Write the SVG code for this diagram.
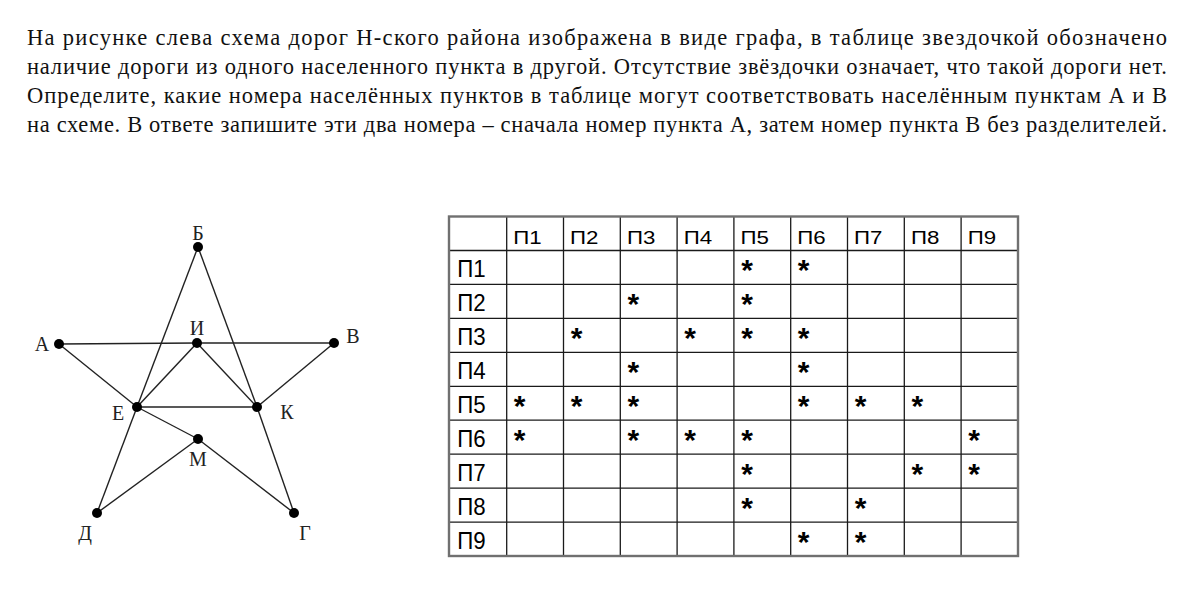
<svg xmlns="http://www.w3.org/2000/svg" width="1190" height="592" viewBox="0 0 1190 592">
<style>
.para{font-family:"Liberation Serif","Times New Roman",serif;font-size:22.5px;fill:#111}
.lbl{font-family:"Liberation Serif","Times New Roman",serif;font-size:20px;fill:#222;text-anchor:middle}
.edge{stroke:#222;stroke-width:1.4;fill:none}
.dot{fill:#000}
.hd{font-family:"Liberation Sans",Arial,sans-serif;font-size:18.5px;fill:#000}
.rl{font-family:"Liberation Sans",Arial,sans-serif;font-size:23px;fill:#000}
.st{font-family:"Liberation Sans",Arial,sans-serif;font-size:30px;font-weight:bold;fill:#000;text-anchor:middle}
.gi{stroke:#1a1a1a;stroke-width:1.3}
.go{stroke:#707070;stroke-width:2.4;fill:none}
</style>
<rect width="1190" height="592" fill="#fff"/>
<g id="text">
<text class="para" x="27" y="45" textLength="1140" lengthAdjust="spacing">На рисунке слева схема дорог Н-ского района изображена в виде графа, в таблице звездочкой обозначено</text>
<text class="para" x="27" y="74" textLength="1140" lengthAdjust="spacing">наличие дороги из одного населенного пункта в другой. Отсутствие звёздочки означает, что такой дороги нет.</text>
<text class="para" x="27" y="103" textLength="1140" lengthAdjust="spacing">Определите, какие номера населённых пунктов в таблице могут соответствовать населённым пунктам А и В</text>
<text class="para" x="27" y="132" textLength="1140" lengthAdjust="spacing">на схеме. В ответе запишите эти два номера – сначала номер пункта А, затем номер пункта В без разделителей.</text>
</g>
<g id="connectors">
<line class="edge" x1="198" y1="247" x2="137" y2="407"/>
<line class="edge" x1="137" y1="407" x2="97" y2="513"/>
<line class="edge" x1="198" y1="247" x2="257" y2="407"/>
<line class="edge" x1="257" y1="407" x2="294" y2="513"/>
<line class="edge" x1="59" y1="344" x2="197" y2="343"/>
<line class="edge" x1="197" y1="343" x2="334" y2="343"/>
<line class="edge" x1="59" y1="344" x2="137" y2="407"/>
<line class="edge" x1="197" y1="343" x2="137" y2="407"/>
<line class="edge" x1="197" y1="343" x2="257" y2="407"/>
<line class="edge" x1="334" y1="343" x2="257" y2="407"/>
<line class="edge" x1="137" y1="407" x2="257" y2="407"/>
<line class="edge" x1="137" y1="407" x2="198" y2="439"/>
<line class="edge" x1="198" y1="439" x2="97" y2="513"/>
<line class="edge" x1="198" y1="439" x2="294" y2="513"/>
</g>
<g id="node-B"><circle class="dot" cx="198" cy="247" r="5"/><text class="lbl" x="198" y="240">Б</text></g>
<g id="node-I"><circle class="dot" cx="197" cy="343" r="5"/><text class="lbl" x="197" y="335">И</text></g>
<g id="node-A"><circle class="dot" cx="59" cy="344" r="5"/><text class="lbl" x="42" y="351">А</text></g>
<g id="node-V"><circle class="dot" cx="334" cy="343" r="5"/><text class="lbl" x="353" y="343">В</text></g>
<g id="node-E"><circle class="dot" cx="137" cy="407" r="5"/><text class="lbl" x="118" y="420">Е</text></g>
<g id="node-K"><circle class="dot" cx="257" cy="407" r="5"/><text class="lbl" x="287" y="419">К</text></g>
<g id="node-M"><circle class="dot" cx="198" cy="439" r="5"/><text class="lbl" x="198" y="466">М</text></g>
<g id="node-D"><circle class="dot" cx="97" cy="513" r="5"/><text class="lbl" x="85" y="540">Д</text></g>
<g id="node-G"><circle class="dot" cx="294" cy="513" r="5"/><text class="lbl" x="305" y="540">Г</text></g>
<g id="table">
<g class="gi">
<line x1="506.7" y1="216.5" x2="506.7" y2="556"/>
<line x1="563.5" y1="216.5" x2="563.5" y2="556"/>
<line x1="620.3" y1="216.5" x2="620.3" y2="556"/>
<line x1="677.1" y1="216.5" x2="677.1" y2="556"/>
<line x1="733.9" y1="216.5" x2="733.9" y2="556"/>
<line x1="790.7" y1="216.5" x2="790.7" y2="556"/>
<line x1="847.5" y1="216.5" x2="847.5" y2="556"/>
<line x1="904.3" y1="216.5" x2="904.3" y2="556"/>
<line x1="961.1" y1="216.5" x2="961.1" y2="556"/>
<line x1="449" y1="250.5" x2="1018" y2="250.5"/>
<line x1="449" y1="284.4" x2="1018" y2="284.4"/>
<line x1="449" y1="318.4" x2="1018" y2="318.4"/>
<line x1="449" y1="352.3" x2="1018" y2="352.3"/>
<line x1="449" y1="386.3" x2="1018" y2="386.3"/>
<line x1="449" y1="420.2" x2="1018" y2="420.2"/>
<line x1="449" y1="454.2" x2="1018" y2="454.2"/>
<line x1="449" y1="488.1" x2="1018" y2="488.1"/>
<line x1="449" y1="522.1" x2="1018" y2="522.1"/>
</g>
<rect class="go" x="449" y="216.5" width="569" height="339.5"/>
<g>
<text class="hd" x="513.3" y="243.5" textLength="28.4" lengthAdjust="spacingAndGlyphs">П1</text>
<text class="hd" x="570.1" y="243.5" textLength="28.4" lengthAdjust="spacingAndGlyphs">П2</text>
<text class="hd" x="626.9" y="243.5" textLength="28.4" lengthAdjust="spacingAndGlyphs">П3</text>
<text class="hd" x="683.7" y="243.5" textLength="28.4" lengthAdjust="spacingAndGlyphs">П4</text>
<text class="hd" x="740.5" y="243.5" textLength="28.4" lengthAdjust="spacingAndGlyphs">П5</text>
<text class="hd" x="797.3" y="243.5" textLength="28.4" lengthAdjust="spacingAndGlyphs">П6</text>
<text class="hd" x="854.1" y="243.5" textLength="28.4" lengthAdjust="spacingAndGlyphs">П7</text>
<text class="hd" x="910.9" y="243.5" textLength="28.4" lengthAdjust="spacingAndGlyphs">П8</text>
<text class="hd" x="967.7" y="243.5" textLength="28.4" lengthAdjust="spacingAndGlyphs">П9</text>
</g>
<g>
<text class="rl" x="457.3" y="277" textLength="28.4" lengthAdjust="spacingAndGlyphs">П1</text>
<text class="rl" x="457.3" y="311" textLength="28.4" lengthAdjust="spacingAndGlyphs">П2</text>
<text class="rl" x="457.3" y="344.9" textLength="28.4" lengthAdjust="spacingAndGlyphs">П3</text>
<text class="rl" x="457.3" y="378.9" textLength="28.4" lengthAdjust="spacingAndGlyphs">П4</text>
<text class="rl" x="457.3" y="412.8" textLength="28.4" lengthAdjust="spacingAndGlyphs">П5</text>
<text class="rl" x="457.3" y="446.8" textLength="28.4" lengthAdjust="spacingAndGlyphs">П6</text>
<text class="rl" x="457.3" y="480.7" textLength="28.4" lengthAdjust="spacingAndGlyphs">П7</text>
<text class="rl" x="457.3" y="514.7" textLength="28.4" lengthAdjust="spacingAndGlyphs">П8</text>
<text class="rl" x="457.3" y="548.6" textLength="28.4" lengthAdjust="spacingAndGlyphs">П9</text>
</g>
<g>
<text class="st" x="747" y="280">*</text><text class="st" x="803.7" y="280">*</text>
<text class="st" x="633.3" y="313.9">*</text><text class="st" x="747" y="313.9">*</text>
<text class="st" x="576.5" y="347.9">*</text><text class="st" x="690.1" y="347.9">*</text><text class="st" x="747" y="347.9">*</text><text class="st" x="803.7" y="347.9">*</text>
<text class="st" x="633.3" y="381.8">*</text><text class="st" x="803.7" y="381.8">*</text>
<text class="st" x="519.7" y="415.8">*</text><text class="st" x="576.5" y="415.8">*</text><text class="st" x="633.3" y="415.8">*</text><text class="st" x="803.7" y="415.8">*</text><text class="st" x="860.5" y="415.8">*</text><text class="st" x="917.3" y="415.8">*</text>
<text class="st" x="519.7" y="449.7">*</text><text class="st" x="633.3" y="449.7">*</text><text class="st" x="690.1" y="449.7">*</text><text class="st" x="747" y="449.7">*</text><text class="st" x="974.1" y="449.7">*</text>
<text class="st" x="747" y="483.7">*</text><text class="st" x="917.3" y="483.7">*</text><text class="st" x="974.1" y="483.7">*</text>
<text class="st" x="747" y="517.6">*</text><text class="st" x="860.5" y="517.6">*</text>
<text class="st" x="803.7" y="551.6">*</text><text class="st" x="860.5" y="551.6">*</text>
</g>
</g>
</svg>
